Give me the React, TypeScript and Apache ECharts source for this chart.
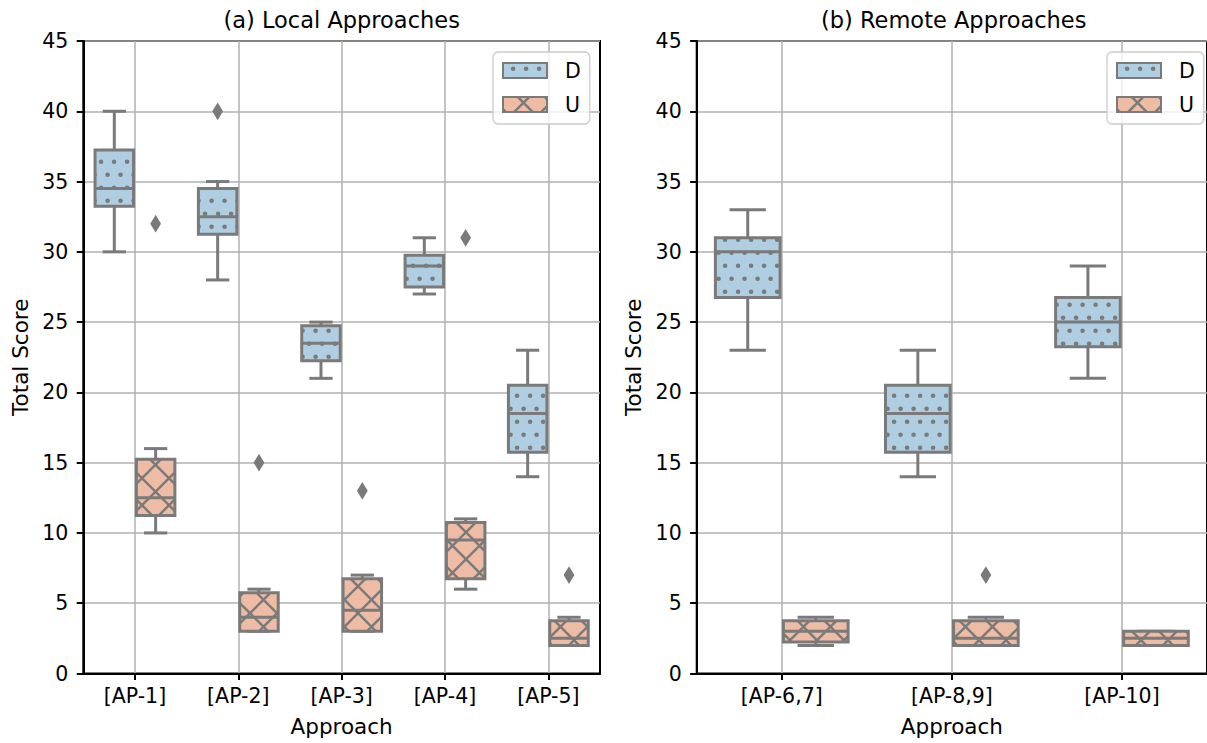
import React, { useEffect, useRef } from 'react';
import * as echarts from 'echarts';

// ---------- data ----------
const localCategories = ['[AP-1]', '[AP-2]', '[AP-3]', '[AP-4]', '[AP-5]'];
const remoteCategories = ['[AP-6,7]', '[AP-8,9]', '[AP-10]'];

// each row: [min, q1, median, q3, max]
const localD = [
  [30, 33.25, 34.5, 37.25, 40],
  [28, 31.25, 32.5, 34.5, 35],
  [21, 22.25, 23.5, 24.75, 25],
  [27, 27.5, 29, 29.75, 31],
  [14, 15.75, 18.5, 20.5, 23],
];
const localU = [
  [10, 11.25, 12.5, 15.25, 16],
  [3, 3, 4, 5.75, 6],
  [3, 3, 4.5, 6.75, 7],
  [6, 6.75, 9.5, 10.75, 11],
  [2, 2, 2.5, 3.75, 4],
];
// each row: [categoryIndex, value]
const localDOutliers = [[1, 40]];
const localUOutliers = [[0, 32], [1, 15], [2, 13], [3, 31], [4, 7]];

const remoteD = [
  [23, 26.75, 30, 31, 33],
  [14, 15.75, 18.5, 20.5, 23],
  [21, 23.25, 25, 26.75, 29],
];
const remoteU = [
  [2, 2.25, 3, 3.75, 4],
  [2, 2, 2.5, 3.75, 4],
  [2, 2, 2.5, 3, 3],
];
const remoteDOutliers: number[][] = [];
const remoteUOutliers = [[1, 7]];

const yMin = 0;
const yMax = 45;
const yStep = 5;
const hueNames = ['D', 'U'];
const titles = ['(a) Local Approaches', '(b) Remote Approaches'];
const xName = 'Approach';
const yName = 'Total Score';

// ---------- styles ----------
const FONT = 'DejaVu Sans';
const GRAY = '#7a7a7a';
const GRID = '#b0b0b0';
const D_FILL = '#afcee1';
const U_FILL = '#eebba4';

function makeDotPattern() {
  const c = document.createElement('canvas');
  c.width = 13;
  c.height = 26;
  const ctx = c.getContext('2d')!;
  ctx.fillStyle = D_FILL;
  ctx.fillRect(0, 0, 13, 26);
  ctx.fillStyle = GRAY;
  const dots = [[3.6, 18.7], [10.1, 5.7]];
  for (const [x, y] of dots) {
    ctx.beginPath();
    ctx.arc(x, y, 2.3, 0, Math.PI * 2);
    ctx.fill();
  }
  return { image: c, repeat: 'repeat', imageWidth: 13, imageHeight: 26 };
}

function makeCrossPattern() {
  const P = 27;
  const c = document.createElement('canvas');
  c.width = P;
  c.height = P;
  const ctx = c.getContext('2d')!;
  ctx.fillStyle = U_FILL;
  ctx.fillRect(0, 0, P, P);
  ctx.strokeStyle = GRAY;
  ctx.lineWidth = 2.4;
  const a = 20.5;
  const b = 5.7;
  for (let k = -4; k <= 4; k++) {
    ctx.beginPath();
    ctx.moveTo(a + k * P - 80, b - 80);
    ctx.lineTo(a + k * P + 80, b + 80);
    ctx.stroke();
    ctx.beginPath();
    ctx.moveTo(a + k * P - 80, b + 80);
    ctx.lineTo(a + k * P + 80, b - 80);
    ctx.stroke();
  }
  return { image: c, repeat: 'repeat', imageWidth: P, imageHeight: P };
}

function makeBoxRender(offset: number, fill: any) {
  return (params: any, api: any) => {
    const i = api.value(0);
    const band = api.size([1, 0])[0];
    const cx = api.coord([i, 0])[0] + offset * band;
    const yy = (k: number) => api.coord([i, api.value(k)])[1];
    const pMin = yy(1);
    const pQ1 = yy(2);
    const pMed = yy(3);
    const pQ3 = yy(4);
    const pMax = yy(5);
    const w = 0.392 * band - 2;
    const cap = 0.196 * band + 3;
    const ls = { stroke: GRAY, lineWidth: 3, fill: null };
    return {
      type: 'group',
      children: [
        { type: 'line', shape: { x1: cx, y1: pQ3, x2: cx, y2: pMax }, style: ls },
        { type: 'line', shape: { x1: cx, y1: pQ1, x2: cx, y2: pMin }, style: ls },
        { type: 'line', shape: { x1: cx - cap / 2, y1: pMax, x2: cx + cap / 2, y2: pMax }, style: ls },
        { type: 'line', shape: { x1: cx - cap / 2, y1: pMin, x2: cx + cap / 2, y2: pMin }, style: ls },
        {
          type: 'rect',
          shape: { x: cx - w / 2, y: pQ3, width: w, height: pQ1 - pQ3 },
          style: { fill, stroke: GRAY, lineWidth: 3 },
        },
        { type: 'line', shape: { x1: cx - w / 2, y1: pMed, x2: cx + w / 2, y2: pMed }, style: ls },
      ],
    };
  };
}

function makeOutlierRender(offset: number) {
  return (params: any, api: any) => {
    const i = api.value(0);
    const band = api.size([1, 0])[0];
    const p = api.coord([i, api.value(1)]);
    const cx = p[0] + offset * band;
    const cy = p[1];
    return {
      type: 'polygon',
      shape: { points: [[cx, cy - 8.9], [cx + 5.4, cy], [cx, cy + 8.9], [cx - 5.4, cy]] },
      style: { fill: GRAY },
    };
  };
}

export default function App() {
  const ref = useRef<HTMLDivElement>(null);

  useEffect(() => {
    if (!ref.current) return;
    const chart = echarts.init(ref.current, null, { renderer: 'svg' });
    const dotPattern = makeDotPattern();
    const crossPattern = makeCrossPattern();

    const grids = [
      { left: 83.3, top: 41, width: 516.7, height: 632.5 },
      { left: 696.7, top: 41, width: 514, height: 632.5 },
    ];
    const centers = grids.map((g) => g.left + g.width / 2);

    const xAxis = [localCategories, remoteCategories].map((cats, gi) => ({
      type: 'category',
      gridIndex: gi,
      data: cats,
      boundaryGap: true,
      name: xName,
      nameLocation: 'middle',
      nameGap: 42,
      nameTextStyle: { fontSize: 21.5, fontFamily: FONT, color: '#000' },
      axisLine: { show: true, lineStyle: { color: '#000', width: 2 } },
      axisTick: { show: true, alignWithLabel: true, interval: 0, length: 6.6, lineStyle: { color: '#000', width: 2 } },
      axisLabel: { fontSize: 20.5, fontFamily: FONT, color: '#000', margin: 12, interval: 0 },
      splitLine: { show: true, alignWithLabel: true, interval: 0, lineStyle: { color: GRID, width: 1.5 } },
    }));

    const yAxis = [0, 1].map((gi) => ({
      type: 'value',
      gridIndex: gi,
      min: yMin,
      max: yMax,
      interval: yStep,
      name: yName,
      nameLocation: 'middle',
      nameGap: 52,
      nameRotate: 90,
      nameTextStyle: { fontSize: 21.5, fontFamily: FONT, color: '#000' },
      axisLine: { show: true, lineStyle: { color: '#000', width: 2 } },
      axisTick: { show: true, length: 6.6, lineStyle: { color: '#000', width: 2 } },
      axisLabel: { fontSize: 20.5, fontFamily: FONT, color: '#000', margin: 15 },
      splitLine: { show: true, lineStyle: { color: GRID, width: 1.5 } },
    }));

    const boxSeries = (name: string, gi: number, rows: number[][], offset: number, fill: any) => ({
      type: 'custom',
      name,
      xAxisIndex: gi,
      yAxisIndex: gi,
      data: rows.map((r, i) => [i, ...r]),
      encode: { x: 0, y: [1, 2, 3, 4, 5] },
      renderItem: makeBoxRender(offset, fill),
      z: 3,
    });
    const outlierSeries = (name: string, gi: number, rows: number[][], offset: number) => ({
      type: 'custom',
      name,
      xAxisIndex: gi,
      yAxisIndex: gi,
      data: rows,
      encode: { x: 0, y: 1 },
      renderItem: makeOutlierRender(offset),
      z: 4,
    });

    const legend = (left: number) => ({
      left,
      top: 52,
      orient: 'vertical',
      selectedMode: false,
      data: [
        { name: hueNames[0], icon: 'rect', itemStyle: { color: dotPattern, borderColor: GRAY, borderWidth: 2 } },
        { name: hueNames[1], icon: 'rect', itemStyle: { color: crossPattern, borderColor: GRAY, borderWidth: 2 } },
      ],
      itemWidth: 44,
      itemHeight: 15,
      itemGap: 13,
      padding: [8, 9, 9, 9],
      backgroundColor: 'rgba(255,255,255,0.8)',
      borderColor: '#cccccc',
      borderWidth: 1.3,
      borderRadius: 5,
      textStyle: { fontSize: 20.5, fontFamily: FONT, color: '#000', lineHeight: 20, padding: [0, 0, 0, 13] },
      z: 10,
    });

    chart.setOption({
      animation: false,
      backgroundColor: '#fff',
      textStyle: { fontFamily: FONT },
      grid: grids.map((g) => ({ ...g, show: true, borderColor: '#000', borderWidth: 2, backgroundColor: 'transparent' })),
      xAxis,
      yAxis,
      legend: [legend(493), legend(1107)],
      graphic: titles.map((t, gi) => ({
        type: 'text',
        x: centers[gi],
        y: 20,
        style: { text: t, fontSize: 22.5, fontFamily: FONT, fill: '#000', align: 'center', verticalAlign: 'middle' },
      })),
      series: [
        boxSeries(hueNames[0], 0, localD, -0.2, dotPattern),
        boxSeries(hueNames[1], 0, localU, 0.2, crossPattern),
        outlierSeries(hueNames[0], 0, localDOutliers, -0.2),
        outlierSeries(hueNames[1], 0, localUOutliers, 0.2),
        boxSeries(hueNames[0], 1, remoteD, -0.2, dotPattern),
        boxSeries(hueNames[1], 1, remoteU, 0.2, crossPattern),
        outlierSeries(hueNames[0], 1, remoteDOutliers, -0.2),
        outlierSeries(hueNames[1], 1, remoteUOutliers, 0.2),
      ],
    });
    return () => chart.dispose();
  }, []);

  return (
    <div
      ref={ref}
      style={{ position: 'fixed', left: 0, top: 0, width: 1207, height: 743, background: '#fff' }}
    />
  );
}
